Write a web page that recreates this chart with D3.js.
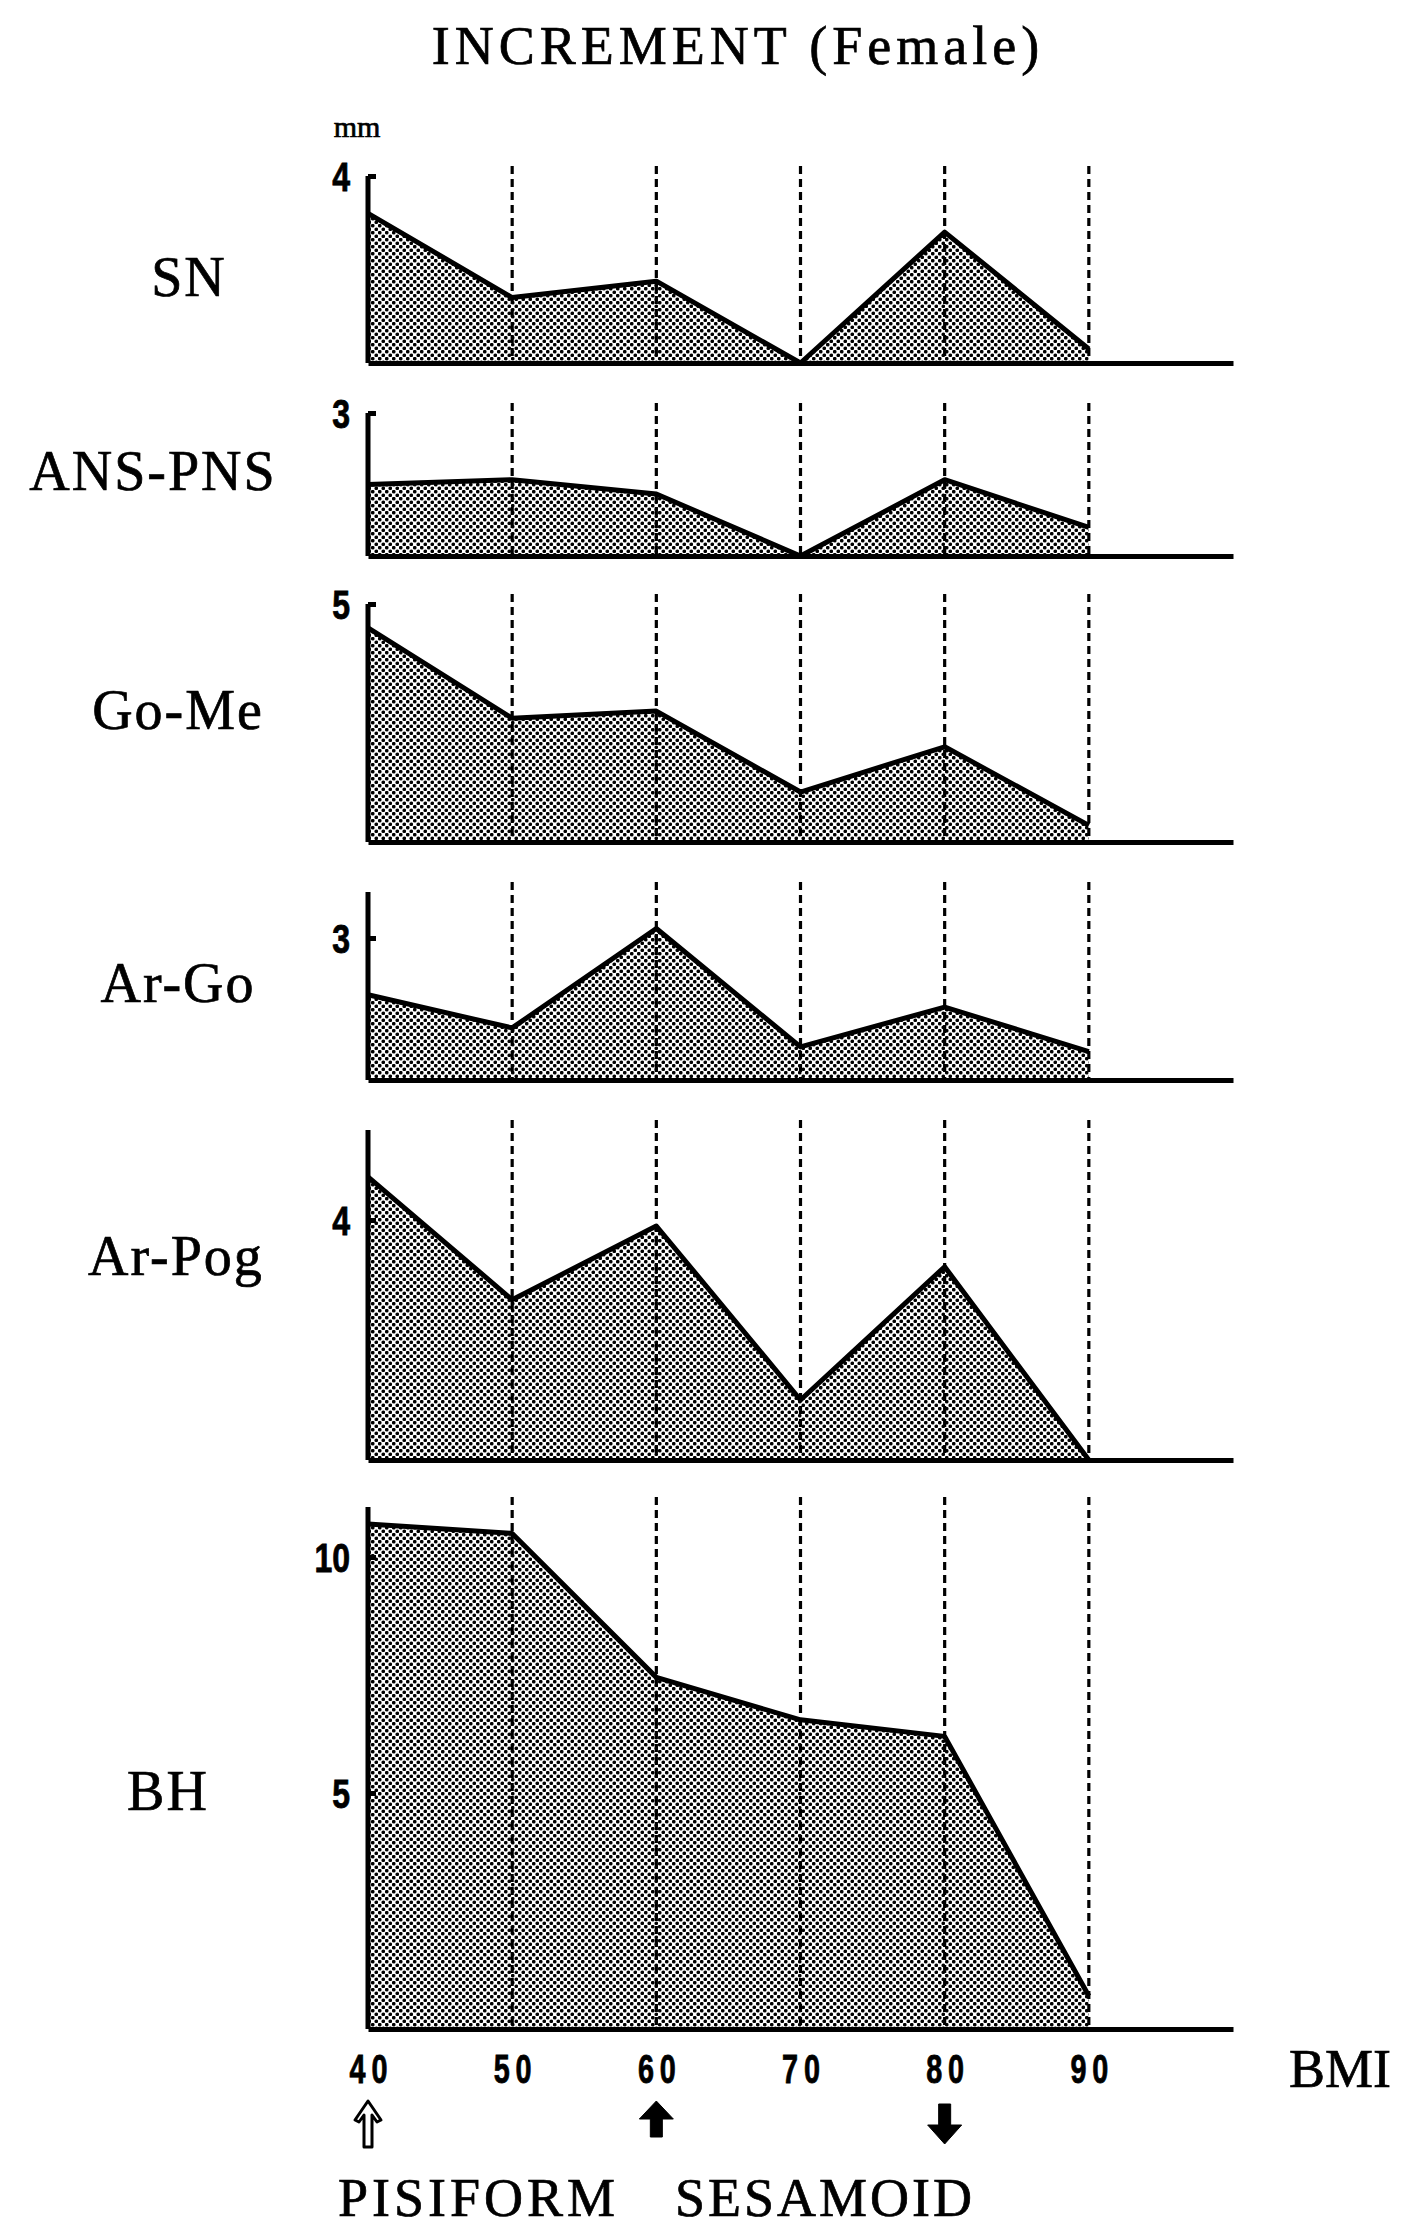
<!DOCTYPE html>
<html>
<head>
<meta charset="utf-8">
<script src="https://cdn.jsdelivr.net/npm/d3@7"></script>
<style>
  body { margin: 0; background: #fff; }
  svg { display: block; }
</style>
</head>
<body>
<div class="chart-wrapper"></div>
<script>
// BMI stages on the x axis
const bmi = [40, 50, 60, 70, 80, 90];
const bmiTicks = [40, 50, 60, 70, 80, 90];

const panelNames = ["SN", "ANS-PNS", "Go-Me", "Ar-Go", "Ar-Pog", "BH"];

// increment (mm) at each BMI stage
const snValues     = [3.2, 1.4, 1.75, 0, 2.8, 0.3];
const ansPnsValues = [1.5, 1.6, 1.3, 0, 1.6, 0.6];
const goMeValues   = [4.5, 2.6, 2.75, 1.05, 2.0, 0.35];
const arGoValues   = [1.8, 1.1, 3.2, 0.7, 1.54, 0.6];
const arPogValues  = [4.72, 2.67, 3.9, 1.0, 3.22, 0];
const bhValues     = [10.7, 10.5, 7.45, 6.55, 6.2, 0.7];

const panelValues = [snValues, ansPnsValues, goMeValues, arGoValues, arPogValues, bhValues];
const panelTicks = [[4], [3], [5], [3], [4], [5, 10]];

const markers = [
    { bmi: 40, kind: "open-up" },
    { bmi: 60, kind: "up" },
    { bmi: 80, kind: "down" }
];

// pixel layout of each strip (top of axis, y of the highest tick, baseline)
const layout = [
    { axisTop: 176,  tickY: 176,  base: 363,  labelX: 189, labelY: 296 },
    { axisTop: 413,  tickY: 413,  base: 556,  labelX: 153, labelY: 490 },
    { axisTop: 604,  tickY: 604,  base: 842,  labelX: 178, labelY: 729 },
    { axisTop: 892,  tickY: 938,  base: 1080, labelX: 178, labelY: 1002 },
    { axisTop: 1130, tickY: 1220, base: 1460, labelX: 176, labelY: 1275 },
    { axisTop: 1507, tickY: 1557, base: 2029, labelX: 168, labelY: 1810 }
];

const width = 1426;
const height = 2230;
const serif = "'Liberation Serif', 'Times New Roman', serif";
const sans = "'Liberation Sans', Arial, sans-serif";

const svg = d3.select(".chart-wrapper").append("svg")
    .attr("width", width)
    .attr("height", height)
    .style("background", "#fff");

// stipple fill
const defs = svg.append("defs");
const pat = defs.append("pattern")
    .attr("id", "dots")
    .attr("patternUnits", "userSpaceOnUse")
    .attr("width", 7)
    .attr("height", 7);
pat.append("rect").attr("width", 7).attr("height", 7).attr("fill", "#fff");
pat.append("circle").attr("cx", 1.75).attr("cy", 1.75).attr("r", 1.85).attr("fill", "#000");
pat.append("circle").attr("cx", 5.25).attr("cy", 5.25).attr("r", 1.85).attr("fill", "#000");

const x = d3.scaleLinear().domain([40, 100]).range([368, 1233]);

function serifText(sel, size, spacing) {
    return sel.style("font-family", serif)
        .style("font-size", size + "px")
        .style("letter-spacing", spacing + "px")
        .attr("fill", "#000")
        .attr("stroke", "#000")
        .attr("stroke-width", 0.7);
}

// title
serifText(svg.append("text")
    .attr("x", 738)
    .attr("y", 64)
    .attr("text-anchor", "middle")
    .text("INCREMENT (Female)"), 54, 5);

serifText(svg.append("text")
    .attr("x", 357)
    .attr("y", 137)
    .attr("text-anchor", "middle")
    .text("mm"), 30, 0);

panelValues.forEach((values, i) => {
    const L = layout[i];
    const ticks = panelTicks[i];
    const y = d3.scaleLinear()
        .domain([0, d3.max(ticks)])
        .range([L.base, L.tickY]);

    const pts = bmi.map((b, j) => ({ b: b, v: values[j] }));
    const g = svg.append("g").attr("class", "panel");

    const area = d3.area()
        .x(d => x(d.b))
        .y0(L.base)
        .y1(d => y(d.v));

    const line = d3.line()
        .x(d => x(d.b))
        .y(d => y(d.v));

    g.append("path")
        .datum(pts)
        .attr("d", area)
        .attr("fill", "url(#dots)")
        .attr("stroke", "none");

    // dashed verticals at each stage after the first
    g.append("g")
        .selectAll("line")
        .data(bmi.slice(1))
        .join("line")
        .attr("x1", d => x(d))
        .attr("x2", d => x(d))
        .attr("y1", L.axisTop - 10)
        .attr("y2", L.base)
        .attr("stroke", "#000")
        .attr("stroke-width", 3.2)
        .attr("stroke-dasharray", "8,5");

    g.append("path")
        .datum(pts)
        .attr("d", line)
        .attr("fill", "none")
        .attr("stroke", "#000")
        .attr("stroke-width", 5)
        .attr("stroke-linejoin", "round");

    // vertical axis
    g.append("line")
        .attr("x1", x(40))
        .attr("x2", x(40))
        .attr("y1", L.axisTop)
        .attr("y2", L.base)
        .attr("stroke", "#000")
        .attr("stroke-width", 5);

    const yAxis = g.append("g")
        .attr("transform", `translate(${x(40)},0)`)
        .call(d3.axisLeft(y).tickValues(ticks).tickFormat(d3.format("d"))
            .tickSizeInner(-8).tickSizeOuter(0).tickPadding(0));
    yAxis.select(".domain").remove();
    yAxis.selectAll(".tick line").attr("stroke", "#000").attr("stroke-width", 5);
    yAxis.selectAll(".tick text")
        .attr("x", null)
        .attr("dy", "0.36em")
        .attr("transform", "translate(-18,0) scale(0.8,1)")
        .attr("text-anchor", "end")
        .attr("fill", "#000")
        .attr("stroke", "#000")
        .attr("stroke-width", 0.8)
        .style("font-family", sans)
        .style("font-weight", "bold")
        .style("font-size", "40px");

    // baseline (x axis)
    const last = i === panelValues.length - 1;
    const xAxis = g.append("g")
        .attr("transform", `translate(0,${L.base})`)
        .call(d3.axisBottom(x).tickValues(last ? bmiTicks : []).tickSize(0).tickPadding(26));
    xAxis.select(".domain").attr("stroke", "#000").attr("stroke-width", 5);
    xAxis.selectAll(".tick text").each(function() {
        const tx = d3.select(this);
        tx.attr("transform", "scale(0.72,1)")
            .attr("x", 0)
            .attr("text-anchor", "middle")
            .attr("fill", "#000")
            .attr("stroke", "#000")
            .attr("stroke-width", 0.8)
            .style("font-family", sans)
            .style("font-weight", "bold")
            .style("font-size", "40px");
        tx.text(tx.text().split("").join("\u2009"));
    });

    // strip label
    serifText(svg.append("text")
        .attr("x", L.labelX)
        .attr("y", L.labelY)
        .attr("text-anchor", "middle")
        .text(panelNames[i]), 56, 2);
});

serifText(svg.append("text")
    .attr("x", 1289)
    .attr("y", 2087)
    .text("BMI"), 54, 0);

// arrows under the axis
const arrowShapes = {
    "up":      "M0,0 L17,18 L6,18 L6,36 L-6,36 L-6,18 L-17,18 Z",
    "down":    "M-6,0 L6,0 L6,21 L17,21 L0,40 L-17,21 L-6,21 Z",
    "open-up": "M0,0 L13,19 L9,21 L4,14 L4,46 L-4,46 L-4,14 L-9,21 L-13,19 Z"
};

svg.append("g")
    .selectAll("path")
    .data(markers)
    .join("path")
    .attr("transform", d => `translate(${x(d.bmi)},${d.kind === "down" ? 2104 : 2101})`)
    .attr("d", d => arrowShapes[d.kind])
    .attr("fill", d => d.kind === "open-up" ? "#fff" : "#000")
    .attr("stroke", "#000")
    .attr("stroke-width", d => d.kind === "open-up" ? 3 : 1)
    .attr("stroke-linejoin", "round");

serifText(svg.append("text")
    .attr("x", 338)
    .attr("y", 2216)
    .text("PISIFORM"), 54, 4);

serifText(svg.append("text")
    .attr("x", 675)
    .attr("y", 2216)
    .text("SESAMOID"), 54, 3);
</script>
</body>
</html>
